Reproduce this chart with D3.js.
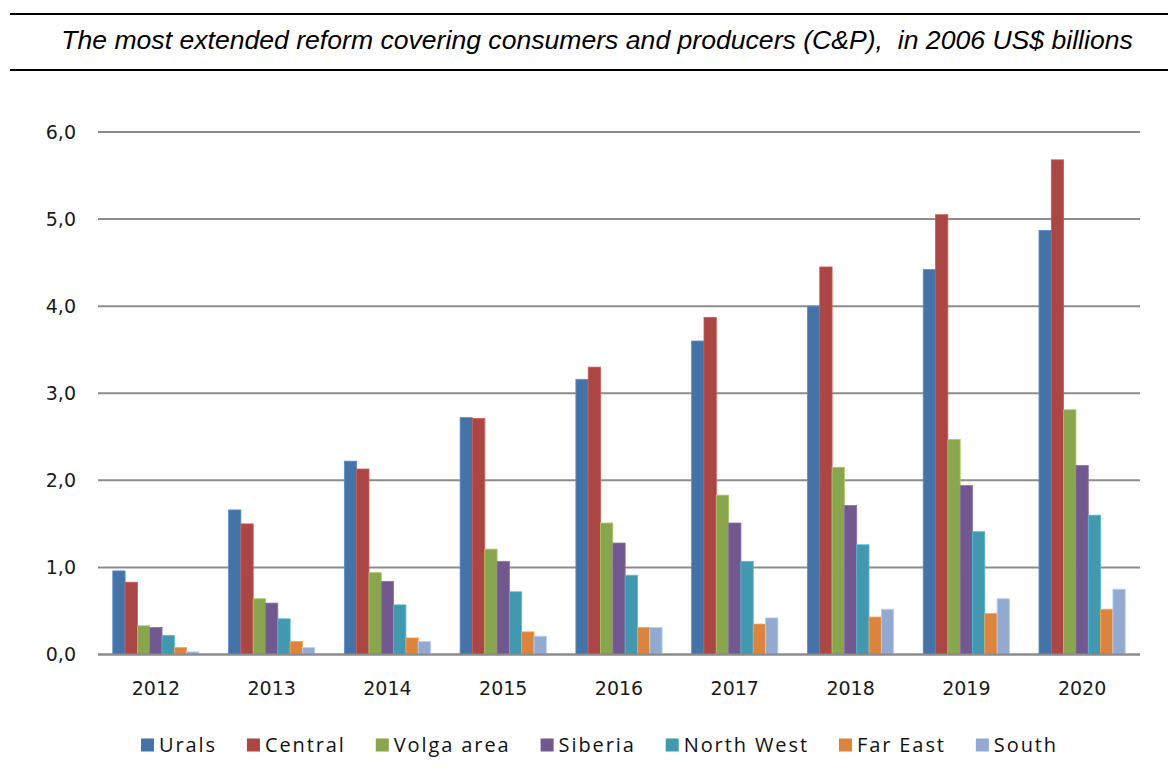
<!DOCTYPE html>
<html>
<head>
<meta charset="utf-8">
<script src="https://cdn.jsdelivr.net/npm/d3@7"></script>
<style>
  html, body { margin: 0; padding: 0; background: #fff; }
  svg { display: block; }
</style>
</head>
<body>
<svg id="chart" width="1168" height="776"></svg>
<script>
const title = "The most extended reform covering consumers and producers (C&P),  in 2006 US$ billions";
const years = ["2012", "2013", "2014", "2015", "2016", "2017", "2018", "2019", "2020"];
const seriesNames = ["Urals", "Central", "Volga area", "Siberia", "North West", "Far East", "South"];
const urals    = [0.96, 1.66, 2.22, 2.72, 3.16, 3.60, 4.00, 4.42, 4.87];
const central  = [0.83, 1.50, 2.13, 2.71, 3.30, 3.87, 4.45, 5.05, 5.68];
const volga    = [0.33, 0.64, 0.94, 1.21, 1.51, 1.83, 2.15, 2.47, 2.81];
const siberia  = [0.31, 0.59, 0.84, 1.07, 1.28, 1.51, 1.71, 1.94, 2.17];
const northWest= [0.22, 0.41, 0.57, 0.72, 0.91, 1.07, 1.26, 1.41, 1.60];
const farEast  = [0.08, 0.15, 0.19, 0.26, 0.31, 0.35, 0.43, 0.47, 0.52];
const south    = [0.03, 0.08, 0.15, 0.21, 0.31, 0.42, 0.52, 0.64, 0.75];
const yTicks = [0, 1, 2, 3, 4, 5, 6];
const colors = ["#4572A7", "#AA4643", "#89A54E", "#71588F", "#4198AF", "#DB843D", "#93A9CF"];

const seriesValues = [urals, central, volga, siberia, northWest, farEast, south];
const svg = d3.select("#chart");

// header lines and title
svg.append("line").attr("x1", 10).attr("x2", 1168).attr("y1", 14).attr("y2", 14)
  .attr("stroke", "#000").attr("stroke-width", 2);
svg.append("line").attr("x1", 10).attr("x2", 1168).attr("y1", 70).attr("y2", 70)
  .attr("stroke", "#000").attr("stroke-width", 2);
svg.append("text")
  .attr("x", 597).attr("y", 49)
  .attr("text-anchor", "middle")
  .style("white-space", "pre")
  .attr("font-family", "'Liberation Sans', Arial, sans-serif")
  .attr("font-style", "italic")
  .attr("font-size", 26.6)
  .attr("fill", "#000")
  .text(title);

const plotLeft = 98, plotRight = 1140;
const x0 = d3.scaleBand().domain(years).range([plotLeft, plotRight]).paddingInner(0).paddingOuter(0);
const x1 = d3.scaleBand().domain(seriesNames).range([0, x0.bandwidth()]).paddingInner(0).paddingOuter(1.2);
const y = d3.scaleLinear().domain([0, 6]).range([654.5, 132]);

// gridlines
const grid = svg.append("g");
grid.selectAll("line").data(yTicks).join("line")
  .attr("x1", plotLeft).attr("x2", plotRight)
  .attr("y1", d => y(d)).attr("y2", d => y(d))
  .attr("stroke", "#8c8c8c").attr("stroke-width", 2);

// y axis labels
const yAxis = d3.axisLeft(y).tickValues(yTicks).tickSize(0).tickPadding(0)
  .tickFormat(d => d3.format(".1f")(d).replace(".", ","));
const yg = svg.append("g").attr("transform", `translate(76,0)`).call(yAxis);
yg.select(".domain").remove();
yg.selectAll("text")
  .attr("font-family", "'DejaVu Sans', Verdana, sans-serif")
  .attr("font-size", 19)
  .attr("fill", "#1a1a1a");

// bars
const bars = svg.append("g");
seriesValues.forEach((vals, si) => {
  bars.append("g").selectAll("rect").data(vals.map((v, i) => ({ year: years[i], v })))
    .join("rect")
    .attr("x", d => x0(d.year) + x1(seriesNames[si]))
    .attr("y", d => y(d.v))
    .attr("width", x1.bandwidth())
    .attr("height", d => y(0) - y(d.v))
    .attr("fill", colors[si])
    .attr("stroke", d3.color(colors[si]).brighter(0.6))
    .attr("stroke-width", 0.8);
});

// baseline on top
svg.append("line").attr("x1", plotLeft).attr("x2", plotRight)
  .attr("y1", y(0)).attr("y2", y(0))
  .attr("stroke", "#8c8c8c").attr("stroke-width", 2);

// x axis labels
const xAxis = d3.axisBottom(x0).tickSize(0).tickPadding(0);
const xg = svg.append("g").attr("transform", `translate(0,${y(0) + 27})`).call(xAxis);
xg.select(".domain").remove();
xg.selectAll("text")
  .attr("font-family", "'DejaVu Sans', Verdana, sans-serif")
  .attr("font-size", 19)
  .attr("fill", "#1a1a1a");

// legend
const legend = svg.append("g");
const sq = 13, gapText = 5, gapItem = 30;
const items = seriesNames.map((name, i) => {
  const g = legend.append("g");
  g.append("rect").attr("width", sq).attr("height", sq).attr("y", -sq / 2)
    .attr("fill", colors[i]);
  const t = g.append("text").attr("x", sq + gapText).attr("y", 0).attr("dy", "0.35em")
    .attr("font-family", "'Open Sans', sans-serif")
    .attr("font-size", 20)
    .attr("letter-spacing", 1.9)
    .attr("fill", "#111")
    .text(name);
  return { g, w: sq + gapText + t.node().getComputedTextLength() };
});
const totalW = d3.sum(items, d => d.w) + gapItem * (items.length - 1);
let cx = 599.5 - totalW / 2;
items.forEach(it => {
  it.g.attr("transform", `translate(${cx},745)`);
  cx += it.w + gapItem;
});
</script>
</body>
</html>
